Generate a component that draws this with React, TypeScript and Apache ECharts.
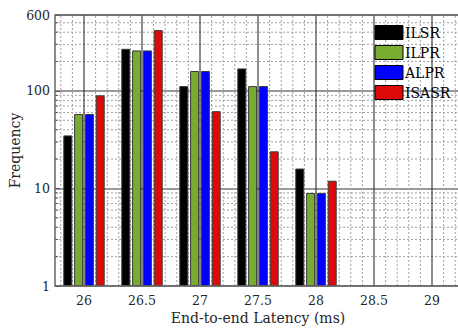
import React, { useEffect, useRef } from "react";
import * as echarts from "echarts";

const latencies = [26, 26.5, 27, 27.5, 28];
const ilsr = [35, 270, 112, 170, 16];
const ilpr = [58, 260, 160, 112, 9];
const alpr = [58, 260, 160, 112, 9];
const isasr = [90, 420, 62, 24, 12];
const seriesNames = ["ILSR", "ILPR", "ALPR", "ISASR"];
const xTickLabels = [26, 26.5, 27, 27.5, 28, 28.5, 29];
const xMin = 25.75;
const xMax = 29.25;
const yMin = 1;
const yMax = 600;

const xMinor: number[] = [];
for (let i = 258; i <= 292; i++) {
  const v = i / 10;
  if (i % 5 !== 0) xMinor.push(v);
}
const yMinor: number[] = [];
[1, 10, 100].forEach((d) => {
  for (let k = 2; k <= 9; k++) {
    if (d * k < yMax) yMinor.push(d * k);
  }
});

const FONT = "DejaVu Serif";

export default function App() {
  const ref = useRef<HTMLDivElement>(null);
  useEffect(() => {
    document.body.style.margin = "0";
    const chart = echarts.init(ref.current!, undefined, { renderer: "svg" });
    const colors = ["#000000", "#77AC30", "#0000FF", "#DD0A0A"];
    const datasets = [ilsr, ilpr, alpr, isasr];
    const bars = datasets.map((d, i) => ({
      name: seriesNames[i],
      type: "bar",
      z: 3,
      barWidth: 9,
      barGap: "20%",
      itemStyle: { color: colors[i], borderColor: "#3a3a3a", borderWidth: 1 },
      data: latencies.map((x, j) => [x, d[j]]),
    }));
    chart.setOption({
      animation: false,
      textStyle: { fontFamily: FONT },
      grid: {
        left: 55,
        top: 15,
        width: 406,
        height: 271,
        containLabel: false,
        outerBoundsMode: "none",
        show: true,
        borderColor: "#666",
        borderWidth: 1.5,
        z: 5,
      },
      legend: {
        orient: "vertical",
        left: 374.5,
        top: 25,
        padding: 0,
        itemWidth: 28,
        itemHeight: 14,
        itemGap: 5,
        icon: "rect",
        data: seriesNames,
        textStyle: { fontFamily: FONT, fontSize: 14, color: "#000", padding: [0, 0, 0, -3] },
        itemStyle: { borderColor: "#000", borderWidth: 1 },
      },
      xAxis: {
        type: "value",
        min: xMin,
        max: xMax,
        name: "End-to-end Latency (ms)",
        nameLocation: "middle",
        nameGap: 25,
        nameMoveOverlap: false,
        nameTextStyle: { fontFamily: FONT, fontSize: 14, color: "#262626" },
        axisLine: { show: false },
        axisTick: { show: false },
        splitLine: { show: false },
        axisLabel: {
          customValues: xTickLabels,
          margin: 8,
          fontFamily: FONT,
          fontSize: 12.5,
          color: "#262626",
          formatter: (v: number) => String(v),
        },
      },
      yAxis: {
        type: "log",
        logBase: 10,
        min: yMin,
        max: yMax,
        name: "Frequency",
        nameLocation: "middle",
        nameGap: 33,
        nameMoveOverlap: false,
        nameTextStyle: { fontFamily: FONT, fontSize: 14, color: "#262626" },
        axisLine: { show: false },
        axisTick: { show: true, inside: true, length: 5, lineStyle: { color: "#555" } },
        splitLine: { show: true, lineStyle: { color: "#777", width: 1.5 } },
        axisLabel: { margin: 5, fontFamily: FONT, fontSize: 12.5, color: "#262626" },
      },
      series: [
        {
          type: "custom",
          name: "yMinorGrid",
          z: 1,
          silent: true,
          data: yMinor.map((v) => [xMin, v]),
          renderItem: (_p: any, api: any) => {
            const y = api.value(1);
            const p0 = api.coord([xMin, y]);
            const p1 = api.coord([xMax, y]);
            return {
              type: "group",
              children: [
                {
                  type: "line",
                  shape: { x1: p0[0], y1: p0[1], x2: p1[0], y2: p1[1] },
                  style: { stroke: "#a0a0a0", lineWidth: 1, lineDash: [2, 2] },
                },
                {
                  type: "line",
                  shape: { x1: p0[0], y1: p0[1], x2: p0[0] + 3, y2: p0[1] },
                  style: { stroke: "#555", lineWidth: 1 },
                },
              ],
            };
          },
        },
        {
          type: "custom",
          name: "xMinorGrid",
          z: 1,
          silent: true,
          data: xMinor.map((v) => [v, yMin]),
          renderItem: (_p: any, api: any) => {
            const x = api.value(0);
            const p0 = api.coord([x, yMin]);
            const p1 = api.coord([x, yMax]);
            return {
              type: "line",
              shape: { x1: p0[0], y1: p0[1], x2: p1[0], y2: p1[1] },
              style: { stroke: "#a0a0a0", lineWidth: 1, lineDash: [2, 2] },
            };
          },
        },
        {
          type: "custom",
          name: "xMajorGrid",
          z: 2,
          silent: true,
          data: xTickLabels.map((v) => [v, yMin]),
          renderItem: (_p: any, api: any) => {
            const x = api.value(0);
            const p0 = api.coord([x, yMin]);
            const p1 = api.coord([x, yMax]);
            return {
              type: "line",
              shape: { x1: p0[0], y1: p0[1], x2: p1[0], y2: p1[1] },
              style: { stroke: "#1a1a1a", lineWidth: 1 },
            };
          },
        },
        ...bars,
      ],
    });
    return () => chart.dispose();
  }, []);
  return <div ref={ref} style={{ width: 458, height: 331 }} />;
}
